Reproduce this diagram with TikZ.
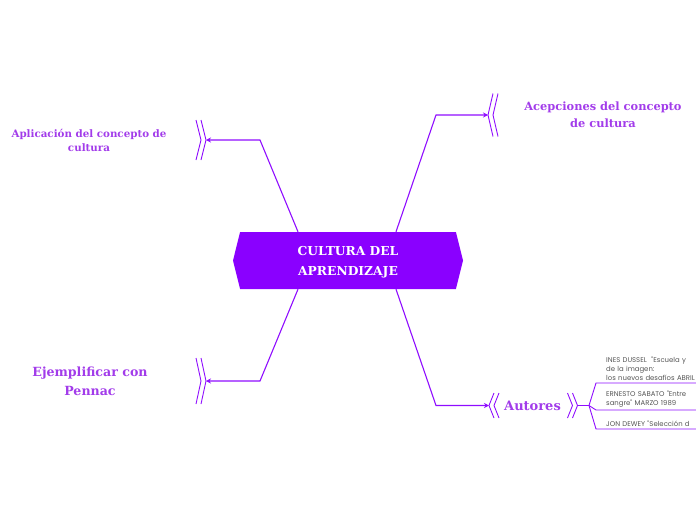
\documentclass[tikz,border=0pt]{standalone}
\usepackage{fontspec}
\usepackage{xcolor}
\usepackage{tikz}
\usetikzlibrary{arrows.meta,calc,positioning,shapes.symbols}
\newfontfamily\topicfont{DejaVu Serif}
\newfontfamily\subfont{Poppins}
\definecolor{linecol}{HTML}{8F0DFF}
\definecolor{topiccol}{HTML}{A23CEA}
\definecolor{corecol}{HTML}{8A00FF}
\definecolor{subcol}{HTML}{555555}
\tikzset{
  link/.style={linecol,line width=1.1pt},
  chev/.style={linecol,line width=0.9pt},
  core/.style={signal,signal to=west and east,signal pointer angle=152,fill=corecol,minimum width=230pt,minimum height=57pt,inner sep=0pt},
  coretext/.style={text=white,font=\topicfont\bfseries\fontsize{12.3}{20}\selectfont,align=center},
  topic/.style={text=topiccol,font=\topicfont\bfseries\fontsize{10.3}{14}\selectfont,align=center},
  sub/.style={anchor=south west,text=subcol,font=\subfont\fontsize{6.9}{9}\selectfont,align=left,text width=110pt,inner xsep=10pt,inner ysep=2pt},
  pics/chevr/.style={code={\draw[chev] (-10,-#1) -- (-5,0) -- (-10,#1) (-5,-#1) -- (0,0) -- (-5,#1);}},
  pics/chevl/.style={code={\draw[chev] (10,-#1) -- (5,0) -- (10,#1) (5,-#1) -- (0,0) -- (5,#1);}},
}

\begin{document}
\begin{tikzpicture}[x=1pt,y=-1pt]
  \useasboundingbox (0,0) rectangle (696,520);
  % central topic
  \node[core] (core) at (348,260.5) {};
  \node[coretext] (coreText) at (348,262.5) {CULTURA DEL\\APRENDIZAJE};
  % main topics
  \node[topic] (tAp) at (89,140) {Aplicación del concepto de\\cultura};
  \node[topic,font=\topicfont\bfseries\fontsize{11.4}{17}\selectfont] (tAc) at (603,115) {Acepciones del concepto\\de cultura};
  \node[topic,font=\topicfont\bfseries\fontsize{12.6}{19}\selectfont] (tEj) at (90,381) {Ejemplificar con\\Pennac};
  \node[topic,font=\topicfont\bfseries\fontsize{13}{19}\selectfont] (tAu) at (532.5,405.5) {Autores};
  % chevrons
  \coordinate (aAp) at (206,140);
  \coordinate (aAc) at (488,115);
  \coordinate (aEj) at (206,381);
  \coordinate (aAu) at (489,405.5);
  \coordinate (oAu) at (577.5,405.5);
  \coordinate (jAu) at (589,405.5);
  \pic at (aAp) {chevr=20};
  \pic at (aAc) {chevl=21.5};
  \pic at (aEj) {chevr=23};
  \pic at (aAu) {chevl=12.5};
  \pic at (oAu) {chevr=12.5};
  % branches
  \draw[link,-{Stealth[length=5pt,width=5pt]}] ($(core.north)+(-50,0)$) -- ($(aAp)+(54,0)$) -- (aAp);
  \draw[link,-{Stealth[length=5pt,width=5pt]}] ($(core.north)+(48,0)$) -- ($(aAc)+(-52,0)$) -- (aAc);
  \draw[link,-{Stealth[length=5pt,width=5pt]}] ($(core.south)+(-50,0)$) -- ($(aEj)+(54,0)$) -- (aEj);
  \draw[link,-{Stealth[length=5pt,width=5pt]}] ($(core.south)+(48,0)$) -- ($(aAu)+(-53,0)$) -- (aAu);
  % authors
  \node[sub] (s1) at (596,383) {INES DUSSEL\ \ "Escuela y\\de la imagen:\\los nuevos desafíos ABRIL};
  \node[sub] (s2) at (596,410) {ERNESTO SABATO "Entre\\sangre" MARZO 1989};
  \node[sub] (s3) at (596,429) {JON DEWEY "Selección d};
  \draw[link] (oAu) -- (jAu);
  \foreach \s in {s1,s2,s3} {
    \draw[link,line width=0.9pt] (jAu) -- (\s.south west) -- (\s.south east);
  }
\end{tikzpicture}
\end{document}
